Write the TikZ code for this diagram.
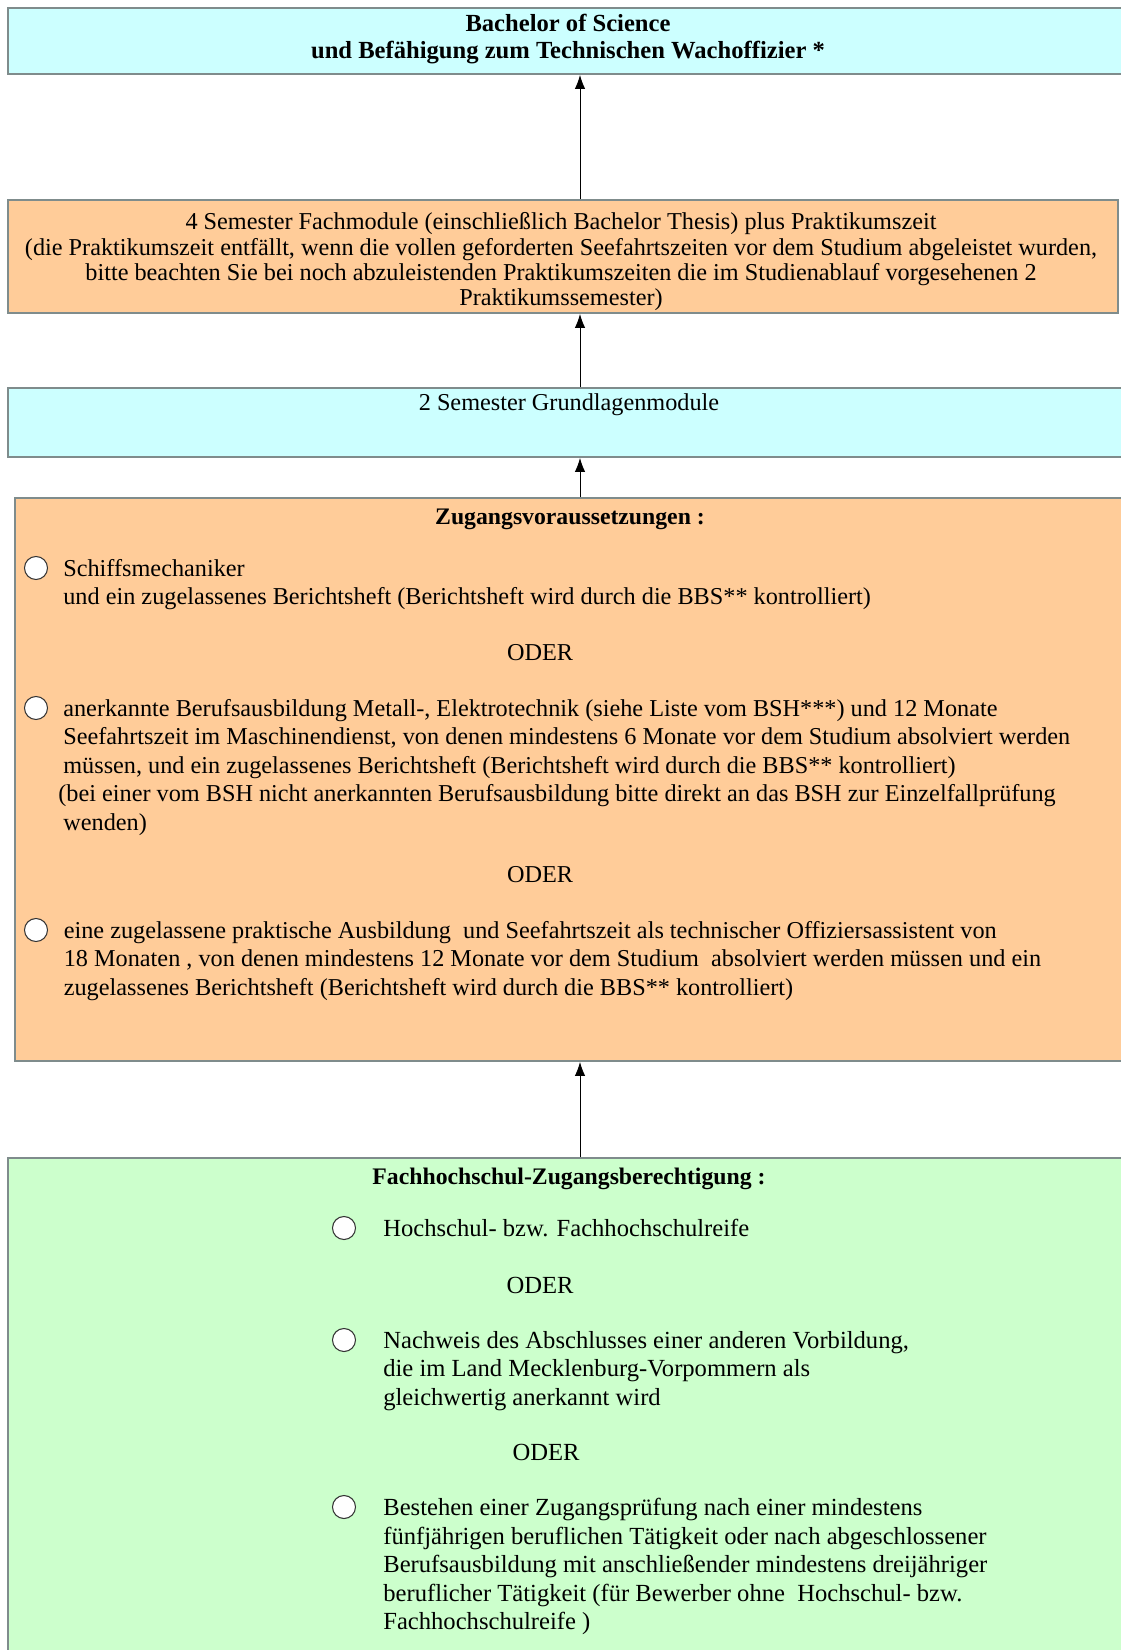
\documentclass[tikz,border=0pt]{standalone}
\usepackage{fontspec}
\setmainfont{Liberation Serif}
\usepackage{xcolor}
\usetikzlibrary{arrows.meta, positioning}

\definecolor{cyanbox}{HTML}{CCFFFF}
\definecolor{orangebox}{HTML}{FFCC99}
\definecolor{greenbox}{HTML}{CCFFCC}
\definecolor{boxline}{HTML}{7F8C8C}

\tikzset{
  box/.style={draw=boxline, line width=1.1pt, rectangle, inner sep=0pt},
  radio/.style={draw=black!80, circle, fill=white, minimum size=0.46cm, inner sep=0pt, line width=0.6pt},
  itemtext/.style={align=left, anchor=north west, inner sep=0pt, font=\fontsize{13.8}{16.2}\selectfont},
  oder/.style={inner sep=0pt, font=\fontsize{13.8}{16.2}\selectfont},
  up/.style={-{Latex[length=2.8mm,width=2.1mm]}, line width=0.5pt},
}

\begin{document}
\begin{tikzpicture}
\useasboundingbox (0,0) rectangle (22.4,-33);
\coordinate (axis) at (11.6,0);

% Boxes
\node[box, fill=cyanbox, minimum width=22.34cm, minimum height=1.32cm] (bsc) at (11.33,-0.82) {};
\node[box, fill=orangebox, minimum width=22.2cm, minimum height=2.26cm] (fach) at (11.26,-5.13) {};
\node[box, fill=cyanbox, minimum width=22.34cm, minimum height=1.38cm] (grund) at (11.33,-8.45) {};
\node[box, fill=orangebox, minimum width=22.2cm, minimum height=11.26cm] (zugang) at (11.4,-15.59) {};
\node[box, fill=greenbox, minimum width=22.34cm, minimum height=10.34cm] (fhzb) at (11.33,-28.33) {};

% Top: degree
\node[align=center, font=\fontsize{14}{15.1}\selectfont\bfseries] (bsctext) at (11.36,-0.78)
  {Bachelor of Science\\und Befähigung zum Technischen Wachoffizier *};

% Fachmodule
\node[align=center, font=\fontsize{13.8}{14.4}\selectfont] (fachtext) at (11.22,-5.24)
  {4 Semester Fachmodule (einschließlich Bachelor Thesis) plus Praktikumszeit\\
   (die Praktikumszeit entfällt, wenn die vollen geforderten Seefahrtszeiten vor dem Studium abgeleistet wurden,\\
   bitte beachten Sie bei noch abzuleistenden Praktikumszeiten die im Studienablauf vorgesehenen 2\\
   Praktikumssemester)};

% Grundlagen
\node[font=\fontsize{13.8}{14.4}\selectfont] (grundtext) at (11.38,-8.1) {2 Semester Grundlagenmodule};

% Zugangsvoraussetzungen
\node[font=\fontsize{13.5}{16.2}\selectfont\bfseries] (zugangtitle) at (11.4,-10.39) {Zugangsvoraussetzungen :};

\node[radio] (za) at (0.72,-11.36) {};
\node[itemtext] (zatext) at (1.26,-11.18)
  {Schiffsmechaniker\\
   und ein zugelassenes Berichtsheft (Berichtsheft wird durch die BBS** kontrolliert)};
\node[oder] (zoder1) at (10.8,-13.06) {ODER};

\node[radio] (zb) at (0.72,-14.16) {};
\node[itemtext] (zbtext) at (1.26,-13.98)
  {anerkannte Berufsausbildung Metall-, Elektrotechnik (siehe Liste vom BSH***) und 12 Monate\\
   Seefahrtszeit im Maschinendienst, von denen mindestens 6 Monate vor dem Studium absolviert werden\\
   müssen, und ein zugelassenes Berichtsheft (Berichtsheft wird durch die BBS** kontrolliert)\\
   \hspace*{-0.1cm}(bei einer vom BSH nicht anerkannten Berufsausbildung bitte direkt an das BSH zur Einzelfallprüfung\\
   wenden)};
\node[oder] (zoder2) at (10.8,-17.5) {ODER};

\node[radio] (zc) at (0.72,-18.6) {};
\node[itemtext] (zctext) at (1.27,-18.42)
  {eine zugelassene praktische Ausbildung~ und Seefahrtszeit als technischer Offiziersassistent von\\
   18 Monaten , von denen mindestens 12 Monate vor dem Studium~ absolviert werden müssen und ein\\
   zugelassenes Berichtsheft (Berichtsheft wird durch die BBS** kontrolliert)};

% Fachhochschul-Zugangsberechtigung
\node[font=\fontsize{13.5}{16.2}\selectfont\bfseries] (fhzbtitle) at (11.38,-23.58) {Fachhochschul-Zugangsberechtigung :};

\node[radio] (fa) at (6.88,-24.56) {};
\node[itemtext, font=\fontsize{14}{16.2}\selectfont] (fatext) at (7.66,-24.38) {Hochschul- bzw. Fachhochschulreife};
\node[oder, font=\fontsize{14}{16.2}\selectfont] (foder1) at (10.8,-25.7) {ODER};

\node[radio] (fb) at (6.88,-26.8) {};
\node[itemtext, font=\fontsize{14}{16.2}\selectfont] (fbtext) at (7.66,-26.62)
  {Nachweis des Abschlusses einer anderen Vorbildung,\\
   die im Land Mecklenburg-Vorpommern als\\
   gleichwertig anerkannt wird};
\node[oder, font=\fontsize{14}{16.2}\selectfont] (foder2) at (10.92,-29.04) {ODER};

\node[radio] (fc) at (6.88,-30.14) {};
\node[itemtext, font=\fontsize{14}{16.2}\selectfont] (fctext) at (7.66,-29.96)
  {Bestehen einer Zugangsprüfung nach einer mindestens\\
   fünfjährigen beruflichen Tätigkeit oder nach abgeschlossener\\
   Berufsausbildung mit anschließender mindestens dreijähriger\\
   beruflicher Tätigkeit (für Bewerber ohne~ Hochschul- bzw.\\
   Fachhochschulreife )};

% Arrows
\draw[up] (fach.north -| axis) -- (bsc.south -| axis);
\draw[up] (grund.north -| axis) -- (fach.south -| axis);
\draw[up] (zugang.north -| axis) -- (grund.south -| axis);
\draw[up] (fhzb.north -| axis) -- (zugang.south -| axis);
\end{tikzpicture}
\end{document}
